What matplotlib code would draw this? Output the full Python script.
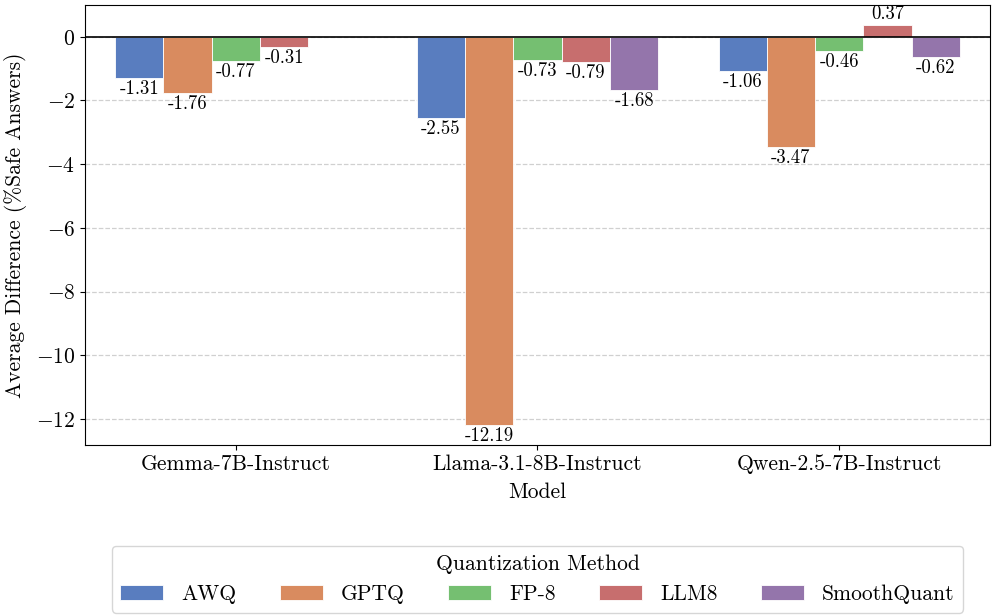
import matplotlib
matplotlib.use("Agg")
import matplotlib.pyplot as plt
import numpy as np
import seaborn as sns

models = ["Gemma-7B-Instruct", "Llama-3.1-8B-Instruct", "Qwen-2.5-7B-Instruct"]
methods = ["AWQ", "GPTQ", "FP-8", "LLM8", "SmoothQuant"]
awq = [-1.31, -2.55, -1.06]
gptq = [-1.76, -12.19, -3.47]
fp8 = [-0.77, -0.73, -0.46]
llm8 = [-0.31, -0.79, 0.37]
smoothquant = [np.nan, -1.68, -0.62]
series = [awq, gptq, fp8, llm8, smoothquant]

plt.rcParams["font.family"] = "cmr10"
plt.rcParams["mathtext.fontset"] = "cm"
plt.rcParams["axes.formatter.use_mathtext"] = True

colors = [sns.desaturate(c, 0.75) for c in sns.color_palette("muted", 5)]

fig = plt.figure(figsize=(9.96, 6.16), dpi=100)
ax = fig.add_axes([0.0853, 0.2776, 0.9087, 0.7144])

x = np.arange(len(models))
w = 0.8 / len(methods)
for i, (name, vals) in enumerate(zip(methods, series)):
    pos = x - 0.4 + w * (i + 0.5)
    ax.bar(pos, vals, width=w, color=colors[i], edgecolor="white",
           linewidth=0.6, label=name, zorder=2)
    for p, v in zip(pos, vals):
        if np.isnan(v):
            continue
        ax.annotate(f"{v:.2f}", (p, v), xytext=(0, -1.5 if v < 0 else 1.5),
                    textcoords="offset points", ha="center",
                    va="top" if v < 0 else "bottom", fontsize=13.5)

ax.axhline(0, color="black", linewidth=1.2, zorder=3)
ax.set_xlim(-0.5, 2.5)
ax.set_ylim(-12.82, 1.0)
ax.set_xticks(x)
ax.set_xticklabels(models, fontsize=15.5)
ax.tick_params(axis="y", labelsize=15.5)
ax.yaxis.grid(True, linestyle="--", color="#d0d0d0", linewidth=0.9, zorder=0)
ax.set_axisbelow(True)
ax.set_xlabel("Model", fontsize=15.5, labelpad=6)
ax.set_ylabel("Average Difference (%Safe Answers)", fontsize=15.5, labelpad=6)

leg = fig.legend(title="Quantization Method", loc="lower center",
                 bbox_to_anchor=(0.5397, 0.0), ncol=5, fontsize=15.5,
                 title_fontsize=15.5, handlelength=2.0, handletextpad=0.85,
                 columnspacing=2.0, borderaxespad=0.15, frameon=True)
leg.get_frame().set_edgecolor("#cccccc")

fig.savefig("out.png", dpi=100)
